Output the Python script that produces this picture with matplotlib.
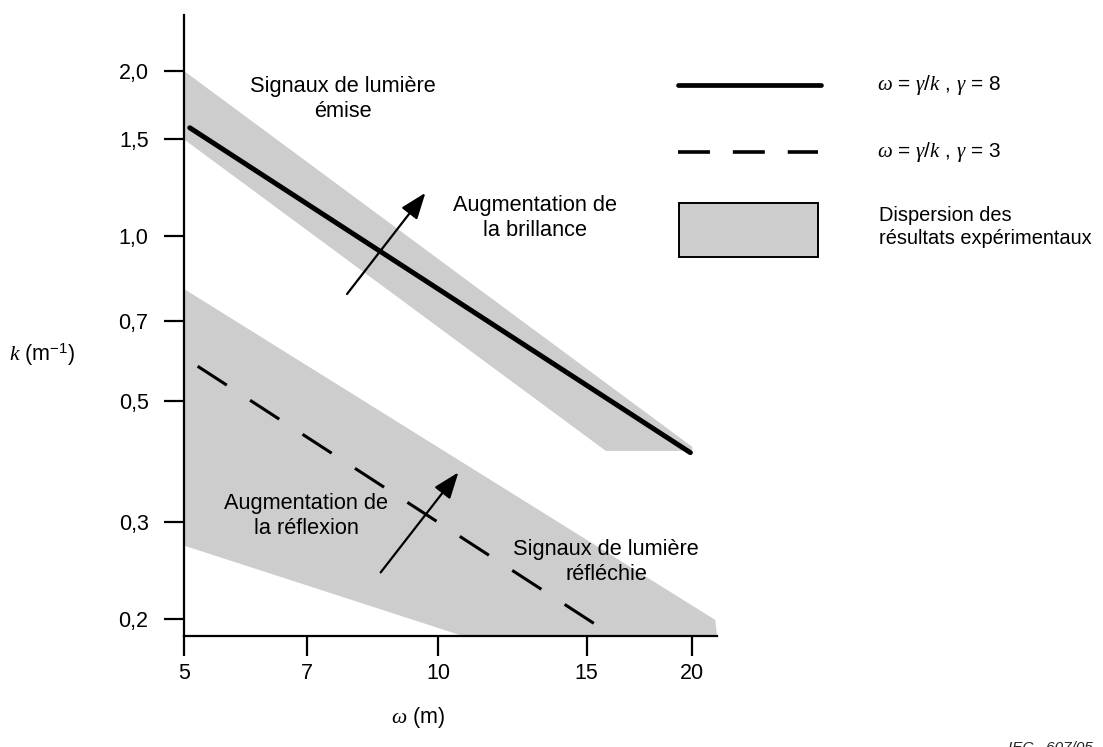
import matplotlib
matplotlib.use("Agg")
import matplotlib.pyplot as plt
from matplotlib.lines import Line2D
from matplotlib.patches import Rectangle, Polygon
from matplotlib.ticker import FixedLocator, FixedFormatter, NullLocator
import numpy as np

plt.rcParams['font.family'] = ['Liberation Sans', 'DejaVu Sans']
plt.rcParams['mathtext.fontset'] = 'custom'
plt.rcParams['mathtext.rm'] = 'Liberation Sans'
plt.rcParams['mathtext.it'] = 'Liberation Serif:italic'
plt.rcParams['lines.scale_dashes'] = False

# --- data -------------------------------------------------------------
x_ticks = [5, 7, 10, 15, 20]
x_tick_labels = ["5", "7", "10", "15", "20"]
y_ticks = [0.2, 0.3, 0.5, 0.7, 1.0, 1.5, 2.0]
y_tick_labels = ["0,2", "0,3", "0,5", "0,7", "1,0", "1,5", "2,0"]

# omega = gamma / k
gamma_high = 8
gamma_low = 3
omega_high = np.array([5.08, 19.9])
omega_low = np.array([5.19, 15.7])

# scatter of experimental results (omega, k) outlines
band_emitted_omega = [5.0, 20.0, 20.0, 15.8, 5.0]
band_emitted_k = [2.0, 0.412, 0.405, 0.405, 1.50]
band_reflected_omega = [5.0, 21.3, 21.4, 10.7, 5.0]
band_reflected_k = [0.80, 0.199, 0.186, 0.186, 0.272]

# arrows (start omega, start k, end omega, end k)
arrow_brightness = (7.80, 0.783, 9.66, 1.198)
arrow_reflection = (8.55, 0.243, 10.57, 0.370)

FW, FH = 1103, 747
fig = plt.figure(figsize=(FW / 100, FH / 100), dpi=100)


def fx(px):
    return px / FW


def fy(py):
    return (FH - py) / FH


ax_l, ax_r, ax_t, ax_b = 184, 717, 15, 636
ax = fig.add_axes([fx(ax_l), fy(ax_b), fx(ax_r - ax_l), (ax_b - ax_t) / FH])
ax.set_xscale('log')
ax.set_yscale('log')
ax.set_xlim(5, 21.4)
ax.set_ylim(0.186, 2.53)

grey = '#cdcdcd'
ax.add_patch(Polygon(list(zip(band_emitted_omega, band_emitted_k)),
                     closed=True, facecolor=grey, edgecolor='none', zorder=1))
ax.add_patch(Polygon(list(zip(band_reflected_omega, band_reflected_k)),
                     closed=True, facecolor=grey, edgecolor='none', zorder=1))

ax.plot(omega_high, gamma_high / omega_high, color='black', lw=3.6,
        solid_capstyle='round', zorder=3)
ax.plot(omega_low, gamma_low / omega_low, color='black', lw=2.2,
        dashes=(25, 20), dash_capstyle='butt', zorder=3)

for (x0, y0, x1, y1) in (arrow_brightness, arrow_reflection):
    ax.annotate('', xy=(x1, y1), xytext=(x0, y0),
                arrowprops=dict(arrowstyle='-|>,head_length=0.8,head_width=0.3',
                                mutation_scale=20, lw=1.6, color='black',
                                shrinkA=0, shrinkB=0), zorder=4)

# axes styling
for s in ('top', 'right'):
    ax.spines[s].set_visible(False)
for s in ('left', 'bottom'):
    ax.spines[s].set_linewidth(1.6)
ax.xaxis.set_major_locator(FixedLocator(x_ticks))
ax.xaxis.set_major_formatter(FixedFormatter(x_tick_labels))
ax.yaxis.set_major_locator(FixedLocator(y_ticks))
ax.yaxis.set_major_formatter(FixedFormatter(y_tick_labels))
ax.xaxis.set_minor_locator(NullLocator())
ax.yaxis.set_minor_locator(NullLocator())
ax.tick_params(axis='both', direction='out', length=14.5, width=1.6,
               labelsize=15.5, colors='black')
ax.tick_params(axis='x', pad=5)
ax.tick_params(axis='y', pad=11)
ax.set_facecolor('none')

# in-plot labels
fs = 15.7
def ftext(px, py, s, **kw):
    kw.setdefault('fontsize', fs)
    kw.setdefault('ha', 'center')
    kw.setdefault('va', 'center')
    kw.setdefault('linespacing', 1.25)
    fig.text(fx(px), fy(py), s, **kw)

ftext(343, 99, "Signaux de lumière\némise")
ftext(535, 218, "Augmentation de\nla brillance")
ftext(306, 516, "Augmentation de\nla réflexion")
ftext(606, 562, "Signaux de lumière\nréfléchie")

# axis titles
ftext(42, 355, r"$k$ (m$^{-1}$)", fontsize=15.5)
ftext(418, 718, r"$\omega$ (m)", fontsize=15.5)

# key
fig.add_artist(Line2D([fx(678), fx(821)], [fy(85), fy(85)], color='black',
                      lw=3.4, solid_capstyle='round'))
fig.add_artist(Line2D([fx(678), fx(818)], [fy(152), fy(152)], color='black',
                      lw=2.6, dashes=(23, 16.5), dash_capstyle='butt'))
fig.add_artist(Rectangle((fx(679), fy(257)), fx(818 - 679), (257 - 203) / FH,
                         facecolor=grey, edgecolor='black', lw=1.4))
ftext(877, 85, r"$\omega$ = $\gamma$/$k$ , $\gamma$ = 8", ha='left', fontsize=15)
ftext(877, 152, r"$\omega$ = $\gamma$/$k$ , $\gamma$ = 3", ha='left', fontsize=15)
ftext(879, 227, "Dispersion des\nrésultats expérimentaux", ha='left',
      fontsize=14.4)

fig.text(fx(1050), fy(741), "IEC   607/05", fontsize=11, style='italic',
         ha='center', va='top', color='#222222')

fig.savefig('out.png', dpi=100)
